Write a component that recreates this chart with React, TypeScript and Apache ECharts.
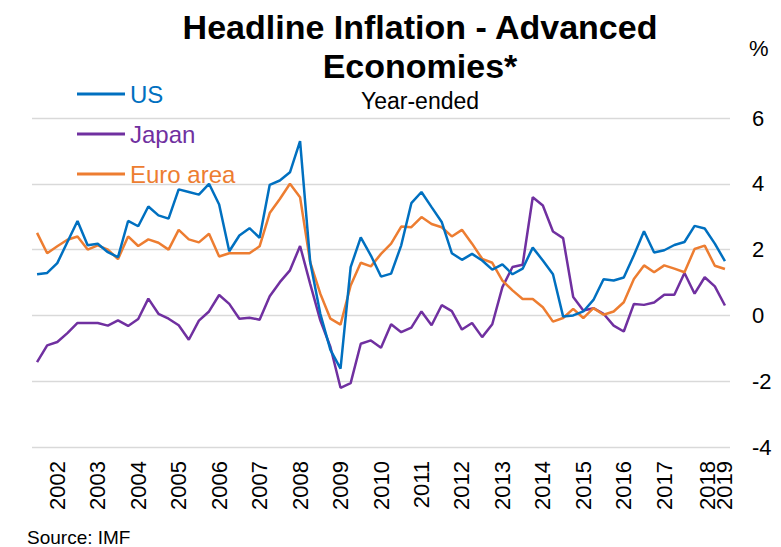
import React, { useEffect, useRef } from "react";
import * as echarts from "echarts";

const years = [2002, 2003, 2004, 2005, 2006, 2007, 2008, 2009, 2010, 2011, 2012, 2013, 2014, 2015, 2016, 2017, 2018, 2019];
const quarters = ["Q1", "Q2", "Q3", "Q4"];
const categories = years.flatMap((y) => quarters.map((q) => `${y} ${q}`)).slice(0, 69);

const usData = [
  1.25, 1.29, 1.59, 2.23, 2.87, 2.13, 2.18, 1.92, 1.77, 2.87, 2.71, 3.31, 3.04, 2.94, 3.83, 3.75,
  3.67, 4.0, 3.37, 1.95, 2.43, 2.65, 2.36, 3.97, 4.1, 4.35, 5.3, 1.62, 0.05, -1.05, -1.62, 1.47,
  2.37, 1.82, 1.18, 1.27, 2.13, 3.41, 3.75, 3.29, 2.84, 1.89, 1.69, 1.87, 1.67, 1.39, 1.55, 1.25,
  1.42, 2.06, 1.67, 1.25, -0.03, 0.0, 0.12, 0.47, 1.1, 1.06, 1.15, 1.83, 2.56, 1.91, 1.98, 2.14,
  2.23, 2.72, 2.64, 2.18, 1.65,
];
const japanData = [
  -1.42, -0.91, -0.81, -0.54, -0.23, -0.23, -0.23, -0.31, -0.15, -0.32, -0.11, 0.51, 0.05, -0.1, -0.3, -0.74,
  -0.16, 0.12, 0.62, 0.35, -0.1, -0.07, -0.13, 0.58, 1.01, 1.37, 2.11, 0.96, -0.15, -0.96, -2.2, -2.06,
  -0.86, -0.76, -0.98, -0.27, -0.51, -0.37, 0.12, -0.3, 0.31, 0.13, -0.43, -0.23, -0.66, -0.27, 0.86, 1.47,
  1.54, 3.59, 3.34, 2.55, 2.35, 0.56, 0.15, 0.22, 0.05, -0.31, -0.49, 0.35, 0.32, 0.39, 0.63, 0.63,
  1.29, 0.66, 1.16, 0.88, 0.3,
];
const euroData = [
  2.51, 1.89, 2.1, 2.3, 2.4, 2.0, 2.13, 2.0, 1.71, 2.4, 2.11, 2.31, 2.21, 2.0, 2.6, 2.31,
  2.22, 2.48, 1.79, 1.89, 1.89, 1.89, 2.1, 3.11, 3.54, 4.0, 3.59, 1.62, 0.66, -0.1, -0.28, 0.91,
  1.6, 1.49, 1.87, 2.18, 2.7, 2.68, 2.99, 2.78, 2.68, 2.4, 2.6, 2.18, 1.72, 1.6, 1.06, 0.76,
  0.5, 0.5, 0.25, -0.19, -0.08, 0.2, -0.08, 0.22, 0.02, 0.12, 0.4, 1.11, 1.52, 1.31, 1.52, 1.42,
  1.31, 2.02, 2.12, 1.51, 1.41,
];

const seriesNames = ["US", "Japan", "Euro area"];
const seriesColors = ["#0070C0", "#7030A0", "#ED7D31"];
const yTicks = { min: -4, max: 6, interval: 2 };

const FONT = "'Liberation Sans', Arial, Helvetica, sans-serif";

export default function App() {
  const ref = useRef<HTMLDivElement>(null);
  useEffect(() => {
    if (!ref.current) return;
    const chart = echarts.init(ref.current, null, { renderer: "svg" });
    const datasets = [usData, japanData, euroData];
    chart.setOption({
      animation: false,
      backgroundColor: "#ffffff",
      textStyle: { fontFamily: FONT },
      grid: { left: 32, right: 51, top: 118, bottom: 100, containLabel: false },
      legend: {
        orient: "vertical",
        left: 77,
        top: 82,
        padding: 0,
        icon: "rect",
        itemWidth: 48,
        itemHeight: 3,
        itemGap: 16,
        selectedMode: false,
        data: seriesNames.map((n, i) => ({
          name: n,
          textStyle: { color: seriesColors[i], fontSize: 24, lineHeight: 24, fontFamily: FONT },
        })),
      },
      xAxis: {
        type: "category",
        data: categories,
        boundaryGap: true,
        axisLine: { show: false },
        axisTick: { show: false },
        splitLine: { show: false },
        axisLabel: {
          interval: 0,
          rotate: 90,
          margin: 14,
          fontSize: 22,
          color: "#000",
          fontFamily: FONT,
          formatter: (v: string, idx: number) => {
            const [y, q] = v.split(" ");
            if (idx === categories.length - 1) return y;
            if (q === "Q3") return y === "2018" ? `{s|${y}}` : y;
            return "";
          },
          rich: {
            s: { fontSize: 22, color: "#000", fontFamily: FONT, padding: [5, 0, 0, 0] },
          },
        },
      },
      yAxis: {
        type: "value",
        position: "right",
        min: yTicks.min,
        max: yTicks.max,
        interval: yTicks.interval,
        axisLine: { show: false },
        axisTick: { show: false },
        axisLabel: { fontSize: 22, color: "#000", margin: 22, fontFamily: FONT },
        splitLine: { show: true, lineStyle: { color: "#D9D9D9", width: 1.3 } },
      },
      series: seriesNames.map((n, i) => ({
        name: n,
        type: "line",
        data: datasets[i],
        symbol: "none",
        showSymbol: false,
        color: seriesColors[i],
        lineStyle: { color: seriesColors[i], width: 2.5 },
        z: i === 0 ? 4 : 3,
      })),
      graphic: [
        {
          type: "text",
          x: 420,
          y: 27,
          style: {
            text: "Headline Inflation - Advanced",
            font: `bold 34px ${FONT}`,
            fill: "#000",
            textAlign: "center",
            textVerticalAlign: "middle",
          },
        },
        {
          type: "text",
          x: 420,
          y: 66,
          style: {
            text: "Economies*",
            font: `bold 34px ${FONT}`,
            fill: "#000",
            textAlign: "center",
            textVerticalAlign: "middle",
          },
        },
        {
          type: "text",
          x: 420,
          y: 101,
          style: {
            text: "Year-ended",
            font: `23px ${FONT}`,
            fill: "#000",
            textAlign: "center",
            textVerticalAlign: "middle",
          },
        },
        {
          type: "text",
          x: 749,
          y: 48,
          style: {
            text: "%",
            font: `22px ${FONT}`,
            fill: "#000",
            textAlign: "left",
            textVerticalAlign: "middle",
          },
        },
        {
          type: "text",
          x: 27,
          y: 537,
          style: {
            text: "Source: IMF",
            font: `19px ${FONT}`,
            fill: "#000",
            textAlign: "left",
            textVerticalAlign: "middle",
          },
        },
      ],
    });
    return () => chart.dispose();
  }, []);
  return (
    <div
      ref={ref}
      style={{ position: "fixed", left: 0, top: 0, width: 781, height: 547 }}
    />
  );
}
